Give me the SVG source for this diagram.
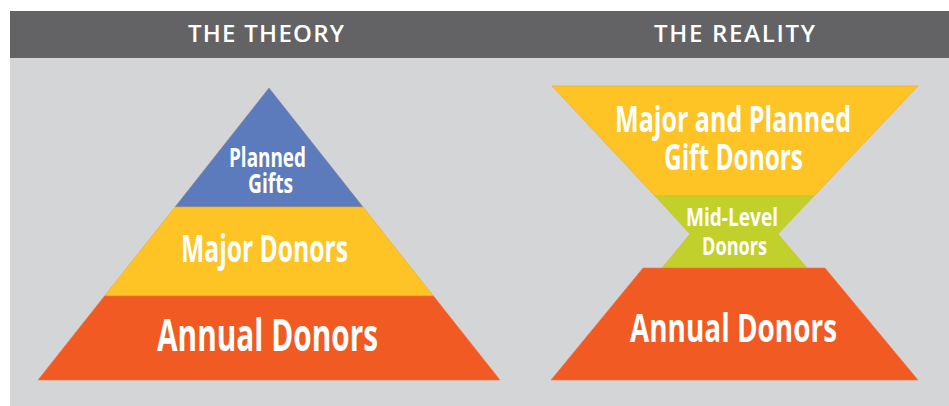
<svg xmlns="http://www.w3.org/2000/svg" width="949" height="406" viewBox="0 0 949 406">
  <style>
    .hdr { font-family: "Open Sans", "Liberation Sans", sans-serif; font-weight: 600; fill: #ffffff; text-anchor: middle; }
    .lbl { font-family: "Open Sans", "Liberation Sans", sans-serif; font-weight: 700; fill: #ffffff; text-anchor: middle; }
    .blue { fill: #5b7bbd; stroke: #8c7f98; stroke-width: 0.6; }
    .yellow { fill: #fec425; stroke: #f4a72a; stroke-width: 0.6; }
    .orange { fill: #f15a22; stroke: #f2764a; stroke-width: 0.6; }
    .green { fill: #c1d02a; stroke: #d3bc2c; stroke-width: 0.6; }
  </style>

  <!-- panel background and title bar -->
  <rect x="10" y="58" width="939" height="348" fill="#d4d5d7"/>
  <rect x="10" y="11" width="939" height="47" fill="#636365"/>
  <text class="hdr" x="266" y="42" font-size="24" textLength="156" lengthAdjust="spacing">THE THEORY</text>
  <text class="hdr" x="734.5" y="42" font-size="24" textLength="161" lengthAdjust="spacing">THE REALITY</text>

  <!-- the theory: classic pyramid -->
  <g id="theory-planned-gifts">
    <polygon class="blue" points="269,88 363,207 175,207"/>
    <text class="lbl" x="267.5" y="167" font-size="26" textLength="77" lengthAdjust="spacingAndGlyphs">Planned</text>
    <text class="lbl" x="270.5" y="193" font-size="26" textLength="45" lengthAdjust="spacingAndGlyphs">Gifts</text>
  </g>
  <g id="theory-major-donors">
    <polygon class="yellow" points="175,207 363,207 433.5,296 104.5,296"/>
    <text class="lbl" x="264.5" y="262" font-size="37" textLength="167" lengthAdjust="spacingAndGlyphs">Major Donors</text>
  </g>
  <g id="theory-annual-donors">
    <polygon class="orange" points="104.5,296 433.5,296 500,380 38,380"/>
    <text class="lbl" x="267.5" y="351" font-size="44" textLength="221" lengthAdjust="spacingAndGlyphs">Annual Donors</text>
  </g>

  <!-- the reality: hourglass -->
  <g id="reality-major-planned">
    <polygon class="yellow" points="552,86 918,86 814,196 655,196"/>
    <text class="lbl" x="733" y="132" font-size="35" textLength="236" lengthAdjust="spacingAndGlyphs">Major and Planned</text>
    <text class="lbl" x="733.5" y="170" font-size="35" textLength="139" lengthAdjust="spacingAndGlyphs">Gift Donors</text>
  </g>
  <g id="reality-mid-level">
    <polygon class="green" points="655,196 814,196 778,234 807,268 662,268 690,234"/>
    <text class="lbl" x="732" y="226" font-size="25" textLength="92" lengthAdjust="spacingAndGlyphs">Mid-Level</text>
    <text class="lbl" x="734.5" y="255" font-size="25" textLength="65" lengthAdjust="spacingAndGlyphs">Donors</text>
  </g>
  <g id="reality-annual-donors">
    <polygon class="orange" points="643,268 825,268 918,380 551,380"/>
    <text class="lbl" x="733.5" y="342" font-size="40" textLength="207" lengthAdjust="spacingAndGlyphs">Annual Donors</text>
  </g>
</svg>
